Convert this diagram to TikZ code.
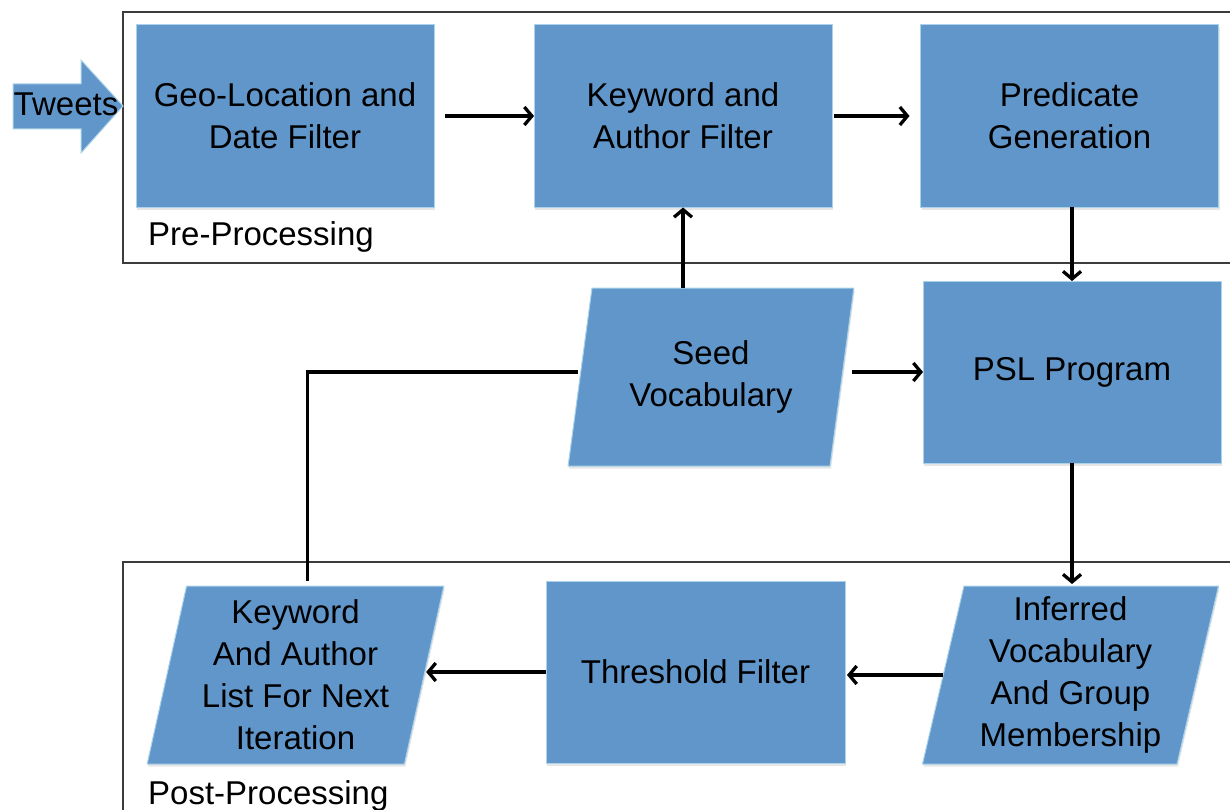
\documentclass[tikz,border=0pt]{standalone}
\usepackage{fontspec}
\setmainfont{Liberation Sans}
\usetikzlibrary{arrows.meta,shapes.geometric,shadows}
\definecolor{boxblue}{RGB}{97,150,202}
\definecolor{boxedge}{RGB}{170,210,232}
\definecolor{framegray}{RGB}{60,60,60}
\begin{document}
\begin{tikzpicture}[x=1pt,y=-1pt,
  txt/.style={font=\fontsize{33}{42}\selectfont, align=center},
  blk/.style={txt, draw=boxedge, line width=1pt, fill=boxblue, inner sep=0pt, outer sep=0pt,
    drop shadow={opacity=0.2,shadow xshift=1pt,shadow yshift=-2.5pt}},
  procbox/.style={blk, rectangle, minimum width=298pt, minimum height=183pt},
  iobox/.style={blk, trapezium, trapezium left angle=77.3, trapezium right angle=102.7,
    trapezium stretches=true, minimum width=#1, minimum height=178pt},
  flow/.style={line width=3.3pt, -{Straight Barb[length=7.5pt,width=18pt]}},
  plainline/.style={line width=3.3pt},
  container/.style={draw=framegray, line width=1.5pt},
  lbl/.style={font=\fontsize{33}{40}\selectfont, anchor=west, inner sep=0pt}
]
\useasboundingbox (0,0) rectangle (1230,810);
\clip (0,0) rectangle (1230,810);

% containers
\draw[container] (123,12) rectangle (1245,263);
\draw[container] (123,562) rectangle (1245,840);
\node[lbl] (prelbl) at (148,237) {Pre-Processing};
\node[lbl] (postlbl) at (148,796) {Post-Processing};

% tweets arrow
\path[fill=boxblue, draw=boxedge, line width=1pt]
  (13,84) -- (81,84) -- (81,60) -- (123,106) -- (81,153) -- (81,129) -- (13,129) -- cycle;
\node[txt, inner sep=0pt] (tweets) at (66,104) {Tweets};

% process boxes
\node[procbox] (geo)  at (285,116)    {Geo-Location and\\Date Filter};
\node[procbox] (kw)   at (683,116)    {Keyword and\\Author Filter};
\node[procbox] (pred) at (1069.5,116) {Predicate\\Generation};
\node[procbox, minimum height=182pt] (psl)  at (1072,372)   {PSL Program};
\node[procbox, minimum width=299pt, minimum height=182pt] (thr)  at (695.5,672)  {Threshold Filter};

% io boxes
\node[iobox=286pt] (seed) at (711,377)    {Seed\\Vocabulary};
\node[iobox=297pt] (list) at (295.5,675)  {Keyword\\And Author\\List For Next\\Iteration};
\node[iobox=297pt] (inf)  at (1070.5,675) {Inferred\\Vocabulary\\And Group\\Membership};

% connectors
\draw[flow, shorten <=11pt] (geo.east) -- (kw.west);
\draw[flow, shorten <=2pt, shorten >=11pt] (kw.east) -- (pred.west);
\draw[flow] (kw.south |- seed.top side) -- (kw.south);
\draw[flow] (pred.south -| psl.north) -- (psl.north);
\draw[flow, shorten <=10pt] (psl.west -| seed.right side) -- (psl.west);
\draw[flow] (psl.south) -- ([yshift=2pt]psl.south |- inf.top side);
\draw[flow, shorten >=2pt] (inf.left side) -- (inf.left side -| thr.east);
\draw[flow, shorten >=2pt] (thr.west) -- (thr.west -| list.right side);
\draw[plainline] ([xshift=-8pt,yshift=5pt]list.top side) |- ([xshift=-2pt]seed.left side |- psl.west);
\end{tikzpicture}
\end{document}
